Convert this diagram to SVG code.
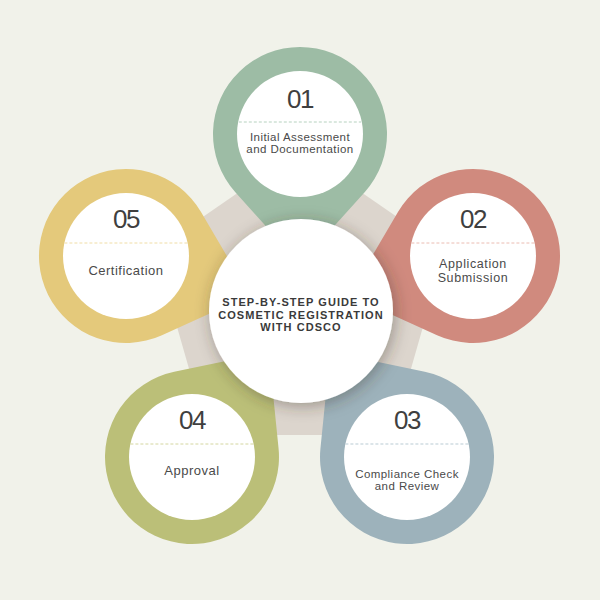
<svg xmlns="http://www.w3.org/2000/svg" xmlns:xlink="http://www.w3.org/1999/xlink" width="600" height="600" viewBox="0 0 600 600">
  <style>
    .num { font-family: "Liberation Sans", Arial, sans-serif; font-size: 26px; fill: #3f3f3f; text-anchor: middle; letter-spacing: -1.5px; }
    .lbl { font-family: "Liberation Sans", Arial, sans-serif; fill: #4a4a4a; text-anchor: middle; }
    .s { font-size: 11.5px; letter-spacing: 0.45px; }
    .m { font-size: 13px; letter-spacing: 0.5px; }
    .m2 { font-size: 12.5px; letter-spacing: 0.6px; }
    .title { font-family: "Liberation Sans", Arial, sans-serif; font-size: 11px; font-weight: bold; fill: #3a3a3a; text-anchor: middle; letter-spacing: 1.05px; }
    .dash { stroke-width: 1; stroke-dasharray: 3 2; fill: none; }
    .inner { fill: #ffffff; }
  </style>
  <defs>
    <path id="drop" d="M0 130 L64.65 58.2 A87 87 0 1 0 -64.65 58.2 Z"/>
    <filter id="shadow" x="-40%" y="-40%" width="180%" height="180%">
      <feDropShadow dx="2" dy="3" stdDeviation="8" flood-color="#3a2e25" flood-opacity="0.4"/>
    </filter>
  </defs>

  <rect width="600" height="600" fill="#f1f2ea"/>

  <polygon id="pentagon" points="300,150 445,250 392,435 208,435 155,250" fill="#dcd5cd"/>

  <g id="connectors"></g>

  <g id="step01">
    <use xlink:href="#drop" href="#drop" fill="#9dbca5" transform="translate(300 134)"/>
    <circle class="inner" cx="300" cy="134" r="63"/>
    <line class="dash" x1="238.8" y1="122" x2="361.2" y2="122" stroke="#b6d2bf"/>
    <text class="num" x="300" y="108">01</text>
    <text class="lbl s" x="300" y="141">Initial Assessment</text>
    <text class="lbl s" x="300" y="152.5">and Documentation</text>
  </g>

  <g id="step02">
    <use xlink:href="#drop" href="#drop" fill="#d08a7e" transform="translate(473 256) rotate(72.4)"/>
    <circle class="inner" cx="473" cy="256" r="63"/>
    <line class="dash" x1="411.4" y1="243" x2="534.6" y2="243" stroke="#ebbcb2"/>
    <text class="num" x="473" y="228">02</text>
    <text class="lbl m2" x="473" y="268">Application</text>
    <text class="lbl m2" x="473" y="281.5">Submission</text>
  </g>

  <g id="step03">
    <use xlink:href="#drop" href="#drop" fill="#9db2bb" transform="translate(407 457) rotate(143.8)"/>
    <circle class="inner" cx="407" cy="457" r="63"/>
    <line class="dash" x1="345.4" y1="444" x2="468.6" y2="444" stroke="#b9cbd3"/>
    <text class="num" x="407" y="429">03</text>
    <text class="lbl s" x="407" y="478">Compliance Check</text>
    <text class="lbl s" x="407" y="489.5">and Review</text>
  </g>

  <g id="step04">
    <use xlink:href="#drop" href="#drop" fill="#bbbf78" transform="translate(192 457) rotate(-143.8)"/>
    <circle class="inner" cx="192" cy="457" r="63"/>
    <line class="dash" x1="130.4" y1="444" x2="253.6" y2="444" stroke="#d4d6a0"/>
    <text class="num" x="192" y="429">04</text>
    <text class="lbl m" x="192" y="475">Approval</text>
  </g>

  <g id="step05">
    <use xlink:href="#drop" href="#drop" fill="#e4c97b" transform="translate(126 256) rotate(-72.4)"/>
    <circle class="inner" cx="126" cy="256" r="63"/>
    <line class="dash" x1="64.4" y1="243" x2="187.6" y2="243" stroke="#f0dda6"/>
    <text class="num" x="126" y="228">05</text>
    <text class="lbl m" x="126" y="275">Certification</text>
  </g>

  <g id="center">
    <circle cx="301" cy="311" r="92" fill="#ffffff" filter="url(#shadow)"/>
    <text class="title" x="301" y="306">STEP-BY-STEP GUIDE TO</text>
    <text class="title" x="301" y="318.5">COSMETIC REGISTRATION</text>
    <text class="title" x="301" y="331">WITH CDSCO</text>
  </g>
</svg>
